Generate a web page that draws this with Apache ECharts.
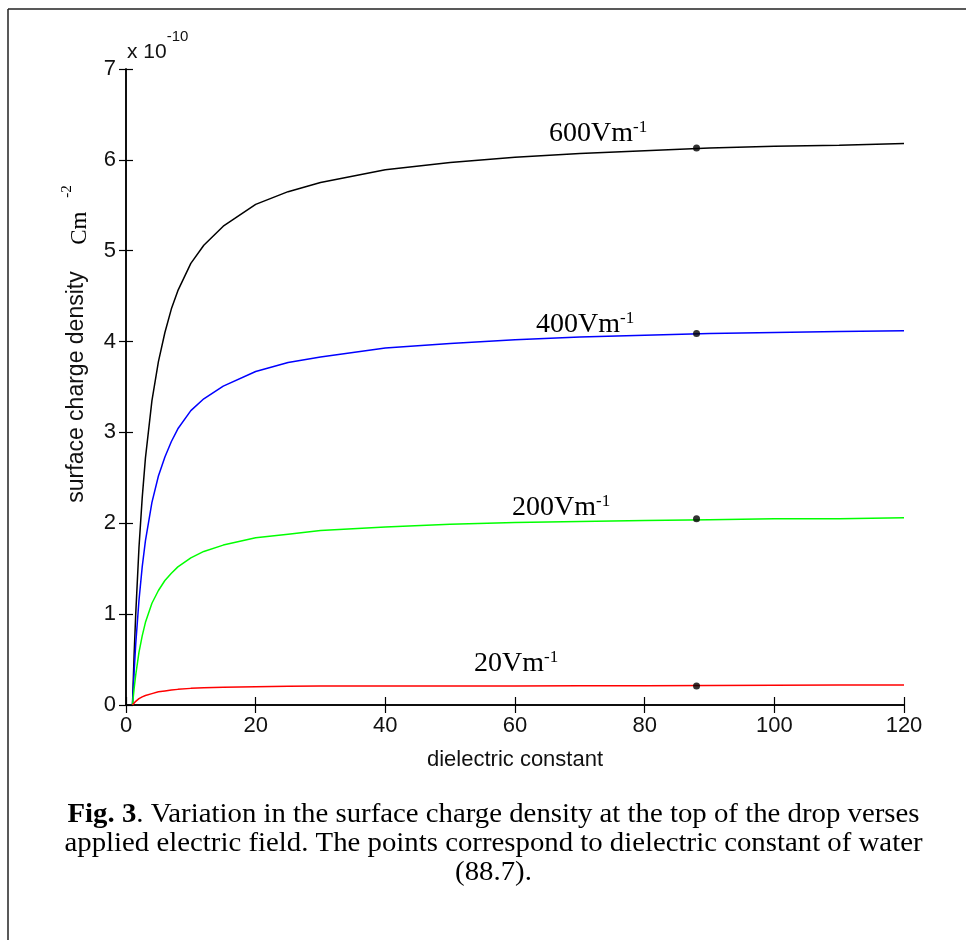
<!DOCTYPE html>
<html><head><meta charset="utf-8">
<script src="https://cdn.jsdelivr.net/npm/echarts@6/dist/echarts.min.js"></script>
<style>html,body{margin:0;padding:0;background:#fff}#c{width:966px;height:940px}</style>
</head><body><div id="c"></div>
<script>
// dielectric constant samples
const epsilon = [1,1.25,1.5,2,2.5,3,4,5,6,7,8,10,12,15,20,25,30,40,50,60,70,80,90,100,110,120];
// surface charge density (x 1e-10 C m^-2)
const sigma600 = [0,0.55,1.0,1.73,2.28,2.72,3.35,3.78,4.10,4.36,4.56,4.86,5.06,5.27,5.51,5.65,5.75,5.89,5.97,6.03,6.07,6.10,6.13,6.15,6.16,6.18];
const sigma400 = [0,0.36,0.67,1.15,1.52,1.81,2.23,2.52,2.73,2.90,3.04,3.24,3.37,3.51,3.67,3.77,3.83,3.93,3.98,4.02,4.05,4.07,4.09,4.10,4.11,4.12];
const sigma200 = [0,0.18,0.33,0.58,0.76,0.91,1.12,1.26,1.37,1.45,1.52,1.62,1.69,1.76,1.84,1.88,1.92,1.96,1.99,2.01,2.02,2.03,2.04,2.05,2.05,2.06];
const sigma20  = [0,0.02,0.04,0.07,0.09,0.105,0.125,0.145,0.155,0.165,0.172,0.183,0.19,0.195,0.20,0.205,0.208,0.21,0.21,0.21,0.212,0.213,0.215,0.218,0.22,0.22];
// points at dielectric constant of water
const waterEps = 88;
const waterSigma = [6.13, 4.09, 2.05, 0.21];
const seriesNames = ['600Vm', '400Vm', '200Vm', '20Vm'];
const seriesColors = ['#000000', '#0000ff', '#00ff00', '#ff0000'];
const captionLines = [
  ['Fig. 3', '. Variation in the surface charge density at the top of the drop verses'],
  ['', 'applied electric field. The points correspond to dielectric constant of water'],
  ['', '(88.7).']
];

const serif = "'Liberation Serif','Times New Roman',serif";
const sans = "'Liberation Sans',Arial,sans-serif";

const chart = echarts.init(document.getElementById('c'), null, {renderer: 'canvas'});
const allSeries = [sigma600, sigma400, sigma200, sigma20];

// measure caption width to emulate the condensed caption
const cv = document.createElement('canvas').getContext('2d');
cv.font = "28px " + serif;
const w2 = cv.measureText(captionLines[1][1]).width;
const capScale = 858 / w2;

const series = allSeries.map((s, i) => ({
  type: 'line', name: seriesNames[i],
  data: epsilon.map((e, j) => [e, s[j]]),
  showSymbol: false, smooth: false,
  lineStyle: {color: seriesColors[i], width: 1.5},
  itemStyle: {color: seriesColors[i]},
  silent: true, z: 3
}));
series.push({
  type: 'scatter', data: waterSigma.map(v => [waterEps, v]),
  symbol: 'circle', symbolSize: 7, itemStyle: {color: '#000'}, z: 5, silent: true
});

const labelPos = [[549, 133.6], [536, 324.6], [512, 507.6], [474, 663.6]];
const graphics = [];
// outer frame
graphics.push({type: 'line', shape: {x1: 8, y1: 9, x2: 966, y2: 9}, style: {stroke: '#222', lineWidth: 1.5}, silent: true});
graphics.push({type: 'line', shape: {x1: 8, y1: 9, x2: 8, y2: 940}, style: {stroke: '#222', lineWidth: 1.5}, silent: true});
// curve labels
seriesNames.forEach((n, i) => {
  graphics.push({
    type: 'text', x: labelPos[i][0], y: labelPos[i][1], z: 10,
    style: {
      text: '{n|' + n + '}{s|-1}', align: 'left', verticalAlign: 'middle',
      rich: {
        n: {fontSize: 28, fontFamily: serif, fill: '#000', lineHeight: 30},
        s: {fontSize: 17, fontFamily: serif, fill: '#000', lineHeight: 17, verticalAlign: 'top'}
      }
    }
  });
});
// exponent
graphics.push({
  type: 'text', x: 127, y: 52, z: 10,
  style: {
    text: '{n|x 10}{s|-10}', align: 'left', verticalAlign: 'middle',
    rich: {
      n: {fontSize: 21, fontFamily: sans, fill: '#111', lineHeight: 46},
      s: {fontSize: 15, fontFamily: sans, fill: '#111', lineHeight: 15, verticalAlign: 'top'}
    }
  }
});
// unit on y axis
graphics.push({
  type: 'text', x: 80, y: 215, rotation: Math.PI / 2, z: 10,
  style: {
    text: '{n|Cm}{s|-2}', align: 'center', verticalAlign: 'middle',
    rich: {
      n: {fontSize: 23, fontFamily: serif, fill: '#000', lineHeight: 40},
      s: {fontSize: 15, fontFamily: serif, fill: '#000', lineHeight: 15, verticalAlign: 'top', padding: [0, 0, 0, 14]}
    }
  }
});
// caption
const capBase = [823, 852, 881];
captionLines.forEach((ln, i) => {
  const txt = (ln[0] ? '{b|' + ln[0] + '}' : '') + '{r|' + ln[1] + '}';
  graphics.push({
    type: 'text', x: 493.5, y: capBase[i] - 8.4, scaleX: capScale, z: 10,
    style: {
      text: txt, align: 'center', verticalAlign: 'middle',
      rich: {
        b: {fontSize: 28, fontFamily: serif, fontWeight: 'bold', fill: '#000', lineHeight: 30},
        r: {fontSize: 28, fontFamily: serif, fill: '#000', lineHeight: 30}
      }
    }
  });
});

const axisCommon = {
  type: 'value',
  axisLine: {show: true, lineStyle: {color: '#000', width: 1.5}},
  splitLine: {show: false},
  axisTick: {show: true, inside: true, lineStyle: {color: '#000', width: 1.2}}
};

chart.setOption({
  animation: false,
  backgroundColor: '#fff',
  grid: {left: 126, right: 62, top: 69, bottom: 235, containLabel: false},
  xAxis: [
    Object.assign({}, axisCommon, {
      min: 0, max: 120, interval: 20, position: 'bottom',
      axisTick: {show: true, inside: true, length: 8, lineStyle: {color: '#000', width: 1.2}},
      axisLabel: {fontFamily: sans, fontSize: 22, color: '#111', margin: 10},
      name: 'dielectric constant', nameLocation: 'middle', nameGap: 44,
      nameTextStyle: {fontFamily: sans, fontSize: 22, color: '#111'}
    }),
    Object.assign({}, axisCommon, {
      min: 0, max: 120, interval: 20, position: 'top',
      axisTick: {show: true, inside: true, length: 8, lineStyle: {color: '#000', width: 1.2}},
      axisLabel: {show: false}
    })
  ],
  yAxis: [
    Object.assign({}, axisCommon, {
      min: 0, max: 7, interval: 1, position: 'left',
      axisTick: {show: true, inside: true, length: 7, lineStyle: {color: '#000', width: 1.2}},
      axisLabel: {fontFamily: sans, fontSize: 22, color: '#111', margin: 10},
      name: 'surface charge density', nameLocation: 'middle', nameGap: 38,
      nameTextStyle: {fontFamily: sans, fontSize: 23, color: '#111'}
    }),
    Object.assign({}, axisCommon, {
      min: 0, max: 7, interval: 1, position: 'right',
      axisTick: {show: true, inside: true, length: 7, lineStyle: {color: '#000', width: 1.2}},
      axisLabel: {show: false}
    })
  ],
  series: series,
  graphic: graphics
});
</script>
</body></html>
